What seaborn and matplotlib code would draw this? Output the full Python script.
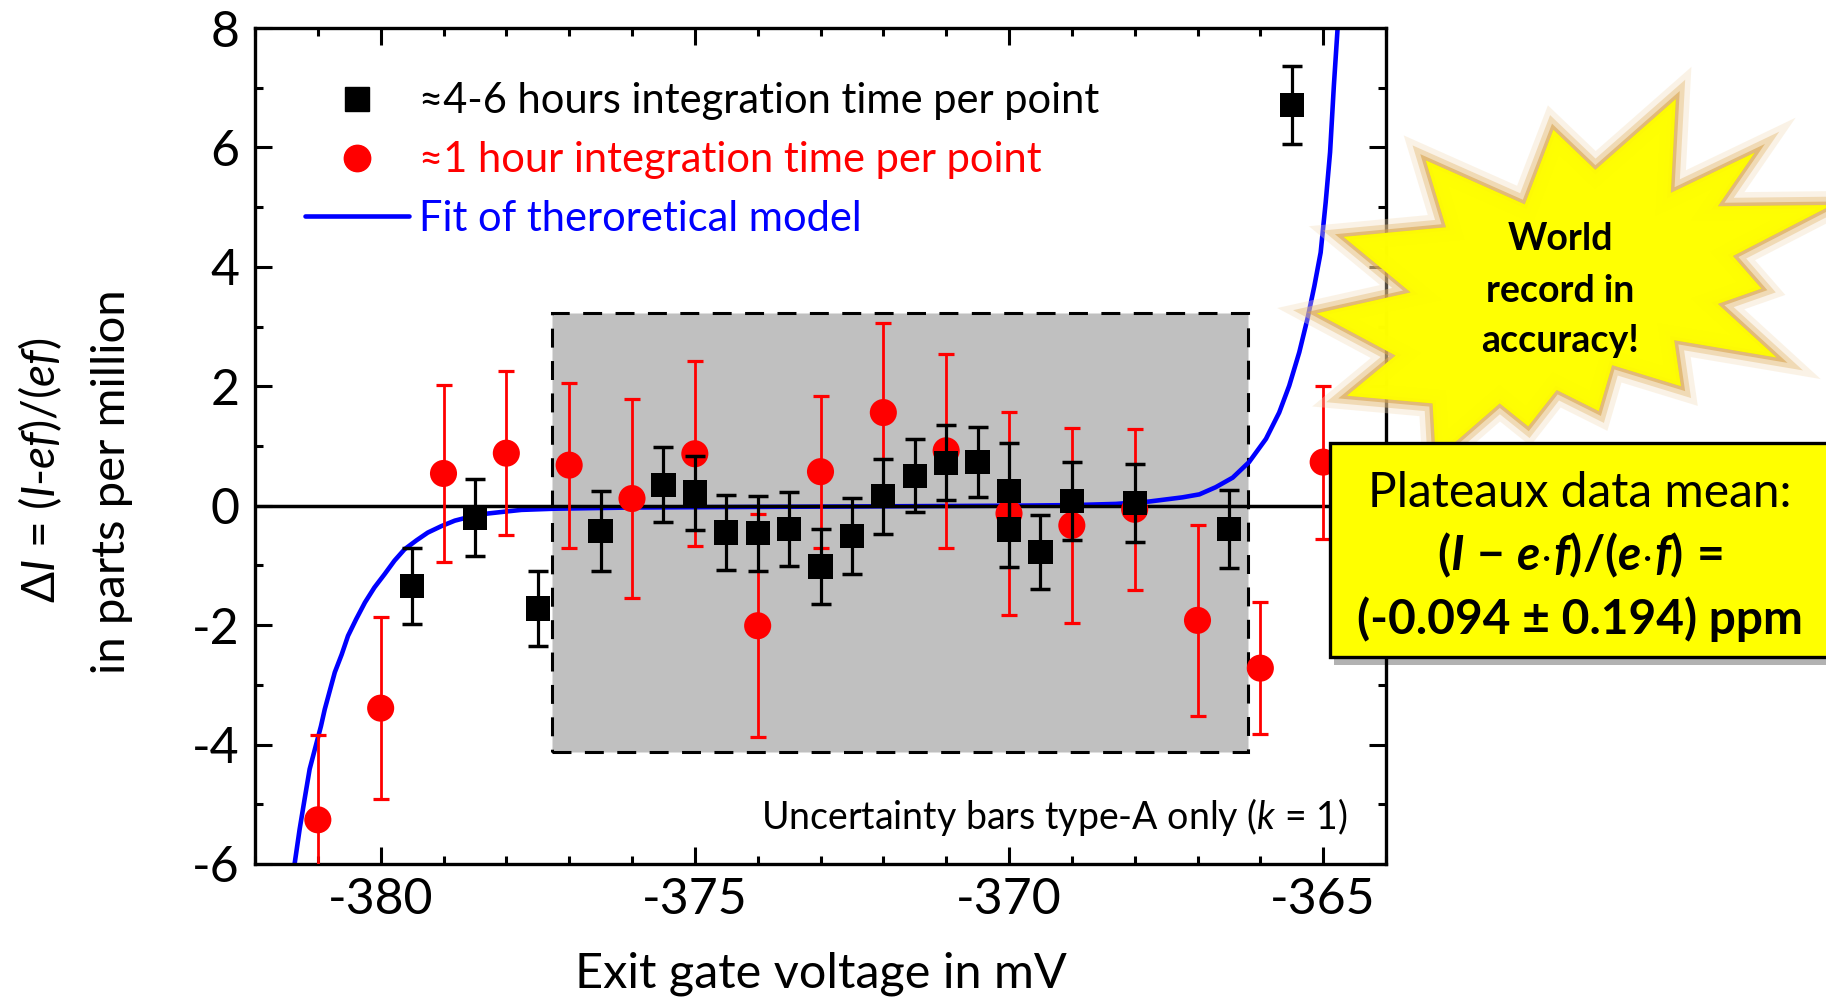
import numpy as np
import pandas as pd
import matplotlib
matplotlib.use("Agg")
import matplotlib.pyplot as plt
import seaborn as sns
from matplotlib.patches import Polygon, Rectangle
from matplotlib.lines import Line2D
import matplotlib.patheffects as pe
from matplotlib.ticker import MultipleLocator

# ---------------- data ----------------
long_x = [-379.5, -378.5, -377.5, -376.5, -375.5, -375.0, -374.5, -374.0, -373.5, -373.0,
          -372.5, -372.0, -371.5, -371.0, -370.5, -370.0, -370.0, -369.5, -369.0, -368.0,
          -366.5, -365.5]
long_y = [-1.34, -0.20, -1.72, -0.42, 0.35, 0.22, -0.45, -0.46, -0.39, -1.02,
          -0.51, 0.16, 0.50, 0.72, 0.73, 0.25, -0.40, -0.78, 0.08, 0.05,
          -0.39, 6.71]
long_err = [0.64, 0.65, 0.63, 0.67, 0.63, 0.62, 0.63, 0.63, 0.62, 0.63,
            0.64, 0.63, 0.61, 0.63, 0.59, 0.80, 0.62, 0.62, 0.65, 0.65,
            0.65, 0.65]

short_x = [-381.0, -380.0, -379.0, -378.0, -377.0, -376.0, -375.0, -374.0, -373.0,
           -372.0, -371.0, -370.0, -369.0, -368.0, -367.0, -366.0, -365.0]
short_y = [-5.26, -3.39, 0.54, 0.88, 0.68, 0.12, 0.87, -2.01, 0.57,
           1.56, 0.92, -0.13, -0.33, -0.06, -1.92, -2.72, 0.73]
short_err = [1.42, 1.52, 1.48, 1.37, 1.38, 1.67, 1.55, 1.87, 1.27,
             1.50, 1.62, 1.70, 1.63, 1.35, 1.60, 1.11, 1.28]

fit_x = [-381.37, -381.29, -381.21, -381.13, -381.02, -380.95, -380.89, -380.81, -380.73,
         -380.62, -380.52, -380.39, -380.25, -380.10, -379.94, -379.78, -379.62, -379.43,
         -379.25, -379.03, -378.82, -378.56, -378.29, -378.03, -377.76, -377.23, -376.0,
         -374.0, -372.0, -370.0, -369.0, -368.3, -367.77, -367.24, -366.97, -366.71,
         -366.44, -366.18, -365.91, -365.70, -365.54, -365.38, -365.25, -365.14, -365.04,
         -364.96, -364.89, -364.83, -364.77]
fit_y = [-6.0, -5.42, -4.91, -4.41, -3.97, -3.69, -3.41, -3.10, -2.79,
         -2.49, -2.18, -1.90, -1.62, -1.37, -1.15, -0.92, -0.73, -0.58,
         -0.45, -0.34, -0.25, -0.18, -0.13, -0.10, -0.07, -0.05, -0.03,
         -0.02, -0.01, 0.0, 0.01, 0.03, 0.07, 0.14, 0.19, 0.31,
         0.47, 0.73, 1.12, 1.56, 2.01, 2.57, 3.13, 3.68, 4.24,
         5.08, 5.92, 7.03, 8.0]

x_ticks = [-380, -375, -370, -365]
y_ticks = [-6, -4, -2, 0, 2, 4, 6, 8]

legend_labels = ["\u22484-6 hours integration time per point",
                 "\u22481 hour integration time per point",
                 "Fit of theroretical model"]

# ---------------- style ----------------
sns.set_theme(style="ticks")
FONT = ["Lato", "DejaVu Sans"]
plt.rcParams["font.family"] = FONT
plt.rcParams["axes.unicode_minus"] = False
plt.rcParams["mathtext.fontset"] = "custom"
plt.rcParams["mathtext.rm"] = "Lato"
plt.rcParams["mathtext.it"] = "Lato:italic"
plt.rcParams["mathtext.bf"] = "Lato:bold"
try:
    plt.rcParams["mathtext.bfit"] = "Lato:italic:bold"
except KeyError:
    pass

W, H = 1826, 999
fig = plt.figure(figsize=(W / 100, H / 100), dpi=100)
fig.patch.set_facecolor("white")


def fx(px):
    return px / W


def fy(py):
    return 1 - py / H


ax_l, ax_r, ax_t, ax_b = 255, 1386, 28, 864
ax = fig.add_axes([fx(ax_l), fy(ax_b), (ax_r - ax_l) / W, (ax_b - ax_t) / H])
ax.set_facecolor("white")

# plateau region
ax.add_patch(Rectangle((-377.28, -4.13), 11.09, 7.36, facecolor="#c0c0c0",
                       edgecolor="black", linewidth=2.2, linestyle=(0, (6.2, 4.4)),
                       zorder=1))

# fit curve
fit_df = pd.DataFrame({"x": fit_x, "y": fit_y})
sns.lineplot(data=fit_df, x="x", y="y", ax=ax, color="#0000ff", linewidth=3.3,
             estimator=None, sort=False, zorder=2, legend=False)
for ln in ax.lines:
    ln.set_solid_joinstyle("round")

# zero line
ax.axhline(0, color="black", linewidth=2.5, zorder=2.5)

# red points (1 hour)
ax.errorbar(short_x, short_y, yerr=short_err, fmt="none", ecolor="#ff0000",
            elinewidth=2.0, capsize=6, capthick=2.3, zorder=3)
short_df = pd.DataFrame({"x": short_x, "y": short_y})
sns.scatterplot(data=short_df, x="x", y="y", ax=ax, marker="o", s=19.5 ** 2,
                color="#ff0000", edgecolor="none", linewidth=0, zorder=4, legend=False)

# black points (4-6 hours)
ax.errorbar(long_x, long_y, yerr=long_err, fmt="none", ecolor="black",
            elinewidth=2.3, capsize=7, capthick=2.5, zorder=5)
long_df = pd.DataFrame({"x": long_x, "y": long_y})
sns.scatterplot(data=long_df, x="x", y="y", ax=ax, marker="s", s=17.5 ** 2,
                color="black", edgecolor="none", linewidth=0, zorder=6, legend=False)

# axes formatting
ax.set_xlim(-382, -364)
ax.set_ylim(-6, 8)
ax.set_xticks(x_ticks)
ax.set_xticklabels([str(v) for v in x_ticks])
ax.set_yticks(y_ticks)
ax.set_yticklabels([str(v) for v in y_ticks])
ax.xaxis.set_minor_locator(MultipleLocator(1))
ax.yaxis.set_minor_locator(MultipleLocator(1))
ax.tick_params(which="both", direction="in", top=True, right=True, width=2.2,
               color="black", labelsize=36, labelcolor="black")
ax.tick_params(which="major", length=12)
ax.tick_params(which="minor", length=6)
ax.tick_params(axis="y", which="major", pad=11)
ax.tick_params(axis="x", which="major", pad=9)
for sp in ax.spines.values():
    sp.set_linewidth(2.4)
    sp.set_color("black")
ax.set_xlabel("")
ax.set_ylabel("")

# legend
handles = [Line2D([], [], marker="s", color="black", linestyle="none", markersize=17),
           Line2D([], [], marker="o", color="#ff0000", linestyle="none", markersize=19),
           Line2D([], [], color="#0000ff", linewidth=3.3)]
leg = ax.legend(handles, legend_labels, loc="upper left",
                bbox_to_anchor=(0.044, 0.935), frameon=False, fontsize=30,
                handlelength=2.5, handletextpad=0.25, labelspacing=0.5,
                borderpad=0, borderaxespad=0)
for t, c in zip(leg.get_texts(), ["black", "#ff0000", "#0000ff"]):
    t.set_color(c)

# axis labels
fig.text(fx(820.5), fy(988), "Exit gate voltage in mV", ha="center", va="baseline",
         fontsize=35, color="black")
fig.text(fx(40), fy(470),
         r"$\Delta\mathit{I}$ = ($\mathit{I}$-$\mathit{ef}$)/($\mathit{ef}$)",
         rotation=90, ha="center", va="center", fontsize=33, color="black")
fig.text(fx(112), fy(482), "in parts per million", rotation=90, ha="center",
         va="center", fontsize=34, color="black")

# note
fig.text(fx(1348), fy(829), r"Uncertainty bars type-A only ($\mathit{k}$ = 1)",
         ha="right", va="baseline", fontsize=27, color="black")

# starburst
star_px = [(1675.8, 99.1), (1670.8, 192.9), (1754.7, 152.7), (1717.8, 206.3),
           (1832, 205), (1732.9, 256), (1761.4, 288.6), (1717.8, 303.9),
           (1776.5, 357.5), (1674.2, 340.2), (1680.9, 386.2), (1612.1, 365.1),
           (1598.7, 411), (1556.7, 390), (1528.2, 426.3), (1499.7, 403.4),
           (1435.9, 458.9), (1432.6, 403.4), (1347, 395.7), (1395.6, 355.5),
           (1316.8, 313.4), (1410.7, 292.4), (1343.6, 236.9), (1446, 227.3),
           (1425.8, 160.4), (1524.8, 204.4), (1553.4, 129.8), (1595.3, 169.9)]
star = Polygon([(fx(a), fy(b)) for a, b in star_px], closed=True,
               transform=fig.transFigure, facecolor="#ffff00", edgecolor="none",
               alpha=0.93, zorder=5)
star.set_path_effects([
    pe.Stroke(linewidth=20, foreground="#f3dcb8", alpha=0.35),
    pe.Stroke(linewidth=12, foreground="#e6bd7a", alpha=0.45),
    pe.Stroke(linewidth=5, foreground="#d9a550", alpha=0.6),
    pe.Normal()])
fig.add_artist(star)
for txt, yb in [("World", 250.3), ("record in", 302), ("accuracy!", 351.7)]:
    fig.text(fx(1560), fy(yb), txt, ha="center", va="baseline", fontsize=27,
             fontweight="bold", color="black", zorder=6)

# result box
box = Rectangle((fx(1330), fy(656.5)), fx(1834) - fx(1330), fy(443.5) - fy(656.5),
                transform=fig.transFigure, facecolor="#ffff00", edgecolor="black",
                linewidth=2.4, zorder=7)
box.set_path_effects([pe.SimplePatchShadow(offset=(3, -6), shadow_rgbFace="black",
                                           alpha=0.3), pe.Normal()])
fig.add_artist(box)
fig.text(fx(1580), fy(506.7), "Plateaux data mean:", ha="center", va="baseline",
         fontsize=34.5, color="black", zorder=8)
fig.text(fx(1580), fy(570),
         r"$\mathbf{(}\mathbfit{I}\mathbf{\ {-}\ }\mathbfit{e}\mathbf{{\cdot}}\mathbfit{f}"
         r"\mathbf{)/(}\mathbfit{e}\mathbf{{\cdot}}\mathbfit{f}\mathbf{)}\,\mathbf{{=}}$",
         ha="center", va="baseline", fontsize=34.5, color="black", zorder=8)
fig.text(fx(1580), fy(634), "(-0.094 \u00b1 0.194) ppm", ha="center", va="baseline",
         fontsize=34.5, fontweight="bold", color="black", zorder=8)

fig.savefig("out.png", dpi=100, facecolor="white")
